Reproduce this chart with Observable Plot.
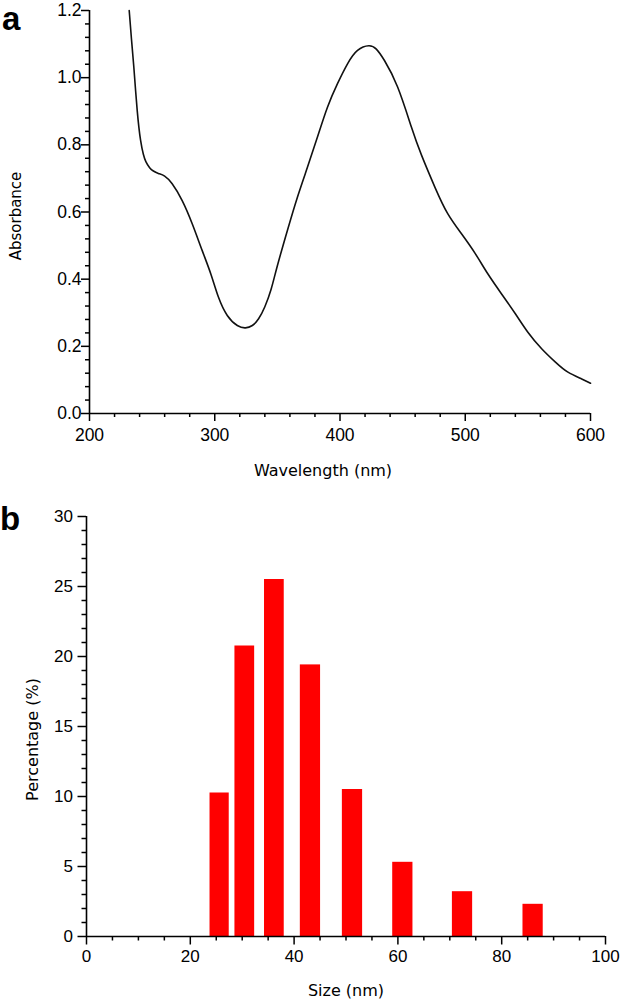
<!DOCTYPE html>
<html>
<head>
<meta charset="utf-8">
<script src="https://cdn.jsdelivr.net/npm/d3@7"></script>
<script src="https://cdn.jsdelivr.net/npm/@observablehq/plot@0.6"></script>
<style>
  html, body { margin: 0; padding: 0; background: #fff; }
  #wrap { position: relative; width: 622px; height: 1003px; }
  .panel { position: absolute; font-family: "Liberation Sans", Arial, sans-serif; font-weight: bold; font-size: 33px; line-height: 37px; color: #000; }
  svg { display: block; }
</style>
</head>
<body>
<div id="wrap">
  <div id="top"></div>
  <div id="bottom"></div>
  <div class="panel" style="left:2px; top:0px;">a</div>
  <div class="panel" style="left:0px; top:500px;">b</div>
</div>
<script>
// ---- Panel a: UV-Vis absorbance spectrum ----
const wavelength = [231.7, 233.5, 235.4, 238.1, 240.8, 243, 245, 248, 251, 255, 260, 266, 274, 282, 290, 297, 303, 310, 318, 324.5, 330, 335, 340, 345, 350, 358, 366, 374, 382, 390, 398, 406, 414, 423, 429, 435.5, 446, 457, 465, 476, 486, 497, 508, 518, 529, 540, 550, 561, 572, 582, 593, 600];
const absorbance = [1.20, 1.115, 1.031, 0.902, 0.813, 0.772, 0.750, 0.732, 0.722, 0.715, 0.707, 0.684, 0.634, 0.565, 0.485, 0.414, 0.346, 0.292, 0.262, 0.255, 0.262, 0.282, 0.318, 0.370, 0.440, 0.545, 0.644, 0.733, 0.823, 0.912, 0.982, 1.041, 1.081, 1.095, 1.085, 1.051, 0.972, 0.853, 0.770, 0.672, 0.595, 0.535, 0.476, 0.416, 0.356, 0.297, 0.242, 0.193, 0.153, 0.123, 0.103, 0.090];
const xTicksA = [200, 300, 400, 500, 600];
const xMinorA = [220, 240, 260, 280, 320, 340, 360, 380, 420, 440, 460, 480, 520, 540, 560, 580];
const yTicksA = [0.0, 0.2, 0.4, 0.6, 0.8, 1.0, 1.2];
const yMinorA = d3.range(0, 31).filter(i => i % 5 !== 0).map(i => i * 0.04);
const xLabelA = "Wavelength (nm)";
const yLabelA = "Absorbance";

// ---- Panel b: size distribution ----
const binLo = [23.8, 28.6, 34.3, 41.2, 49.3, 59.0, 70.5, 84.1];
const binHi = [27.5, 32.4, 38.1, 45.1, 53.2, 62.9, 74.4, 88.0];
const percentage = [10.25, 20.75, 25.5, 19.4, 10.5, 5.3, 3.2, 2.3];
const xTicksB = [0, 20, 40, 60, 80, 100];
const xMinorB = [5, 10, 15, 25, 30, 35, 45, 50, 55, 65, 70, 75, 85, 90, 95];
const yTicksB = [0, 5, 10, 15, 20, 25, 30];
const yMinorB = d3.range(0, 31).filter(v => v % 5 !== 0);
const xLabelB = "Size (nm)";
const yLabelB = "Percentage (%)";

const spectrum = wavelength.map((w, i) => ({wl: w, abs: absorbance[i]}));
const bins = binLo.map((lo, i) => ({lo, hi: binHi[i], pct: percentage[i]}));

const labelFont = "DejaVu Sans, Verdana, sans-serif";

const chartA = Plot.plot({
  width: 622, height: 490,
  marginTop: 10, marginBottom: 77, marginLeft: 89, marginRight: 32,
  style: {fontFamily: "Liberation Sans, Arial, sans-serif", fontSize: "17.5px", color: "#000", background: "#fff"},
  x: {domain: [200, 600]},
  y: {domain: [0, 1.2]},
  marks: [
    Plot.axisX({ticks: xTicksA, tickSize: 8, tickPadding: 7, strokeWidth: 1.5, label: null, tickFormat: d3.format("d")}),
    Plot.axisX({ticks: xMinorA, tickSize: 4, strokeWidth: 1.5, text: null, label: null}),
    Plot.axisY({ticks: yTicksA, tickSize: 8, tickPadding: 0, strokeWidth: 1.5, label: null, tickFormat: d3.format(".1f")}),
    Plot.axisY({ticks: yMinorA, tickSize: 4, strokeWidth: 1.5, text: null, label: null}),
    Plot.ruleX([200], {strokeWidth: 1.6}),
    Plot.ruleY([0], {strokeWidth: 1.6}),
    Plot.line(spectrum, {x: "wl", y: "abs", curve: "natural", stroke: "#111", strokeWidth: 1.6}),
    Plot.text([xLabelA], {frameAnchor: "bottom", textAnchor: "middle", lineAnchor: "middle", dx: -17, dy: 57, fontFamily: labelFont, fontSize: 16, fill: "#000"}),
    Plot.text([yLabelA], {frameAnchor: "left", textAnchor: "middle", lineAnchor: "middle", rotate: -90, dx: -73, dy: 4, fontFamily: labelFont, fontSize: 15, fill: "#000"})
  ]
});
document.getElementById("top").appendChild(chartA);

const chartB = Plot.plot({
  width: 622, height: 513,
  marginTop: 26, marginBottom: 67, marginLeft: 86, marginRight: 17,
  style: {fontFamily: "Liberation Sans, Arial, sans-serif", fontSize: "17px", color: "#000", background: "#fff"},
  x: {domain: [0, 100]},
  y: {domain: [0, 30]},
  marks: [
    Plot.rectY(bins, {x1: "lo", x2: "hi", y: "pct", fill: "#ff0000"}),
    Plot.axisX({ticks: xTicksB, tickSize: 8.5, tickPadding: 5, strokeWidth: 1.5, label: null, tickFormat: d3.format("d")}),
    Plot.axisX({ticks: xMinorB, tickSize: 4.5, strokeWidth: 1.5, text: null, label: null}),
    Plot.axisY({ticks: yTicksB, tickSize: 8.5, tickPadding: 5, strokeWidth: 1.5, label: null, tickFormat: d3.format("d")}),
    Plot.axisY({ticks: yMinorB, tickSize: 4.5, strokeWidth: 1.5, text: null, label: null}),
    Plot.ruleX([0], {strokeWidth: 1.6}),
    Plot.ruleY([0], {strokeWidth: 1.6}),
    Plot.text([xLabelB], {frameAnchor: "bottom", textAnchor: "middle", lineAnchor: "middle", dx: 0, dy: 54, fontFamily: labelFont, fontSize: 16, fill: "#000"}),
    Plot.text([yLabelB], {frameAnchor: "left", textAnchor: "middle", lineAnchor: "middle", rotate: -90, dx: -54, dy: 13, fontFamily: labelFont, fontSize: 16, fill: "#000"})
  ]
});
document.getElementById("bottom").appendChild(chartB);
</script>
</body>
</html>
